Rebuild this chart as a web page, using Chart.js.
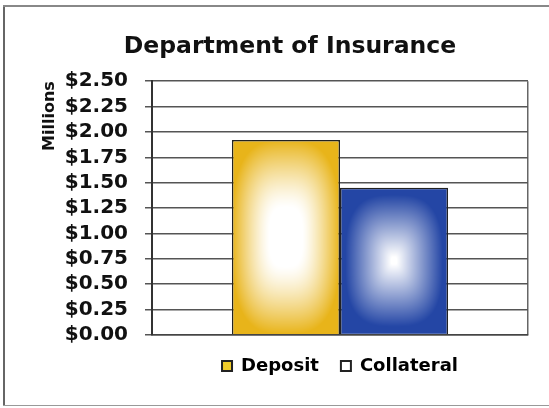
<!DOCTYPE html>
<html>
<head>
<meta charset="utf-8">
<script src="https://cdn.jsdelivr.net/npm/chart.js@4/dist/chart.umd.min.js"></script>
<style>
  html, body { margin: 0; padding: 0; background: #fff; overflow: hidden; }
  #page { position: relative; width: 549px; height: 408px; overflow: hidden; }
  .edge { position: absolute; }
  #edgeLeft { left: 3px; top: 5px; width: 2px; height: 401px; background: #666; }
  #edgeTop { left: 3px; top: 5px; width: 546px; height: 2px; background: #888; }
  #edgeBottom { left: 3px; top: 405px; width: 546px; height: 1px; background: #999; }
  #chart { position: absolute; left: 4px; top: 6px; }
</style>
</head>
<body>
<div id="page">
<div class="edge" id="edgeLeft"></div>
<div class="edge" id="edgeTop"></div>
<div class="edge" id="edgeBottom"></div>
<canvas id="chart" width="572" height="400" style="width:572px;height:400px"></canvas>
</div>
<script>
// --- Data (values in millions) ---
const categories = [''];
const seriesNames = ['Deposit', 'Collateral'];
const depositValues = [1.92];
const collateralValues = [1.45];
const yTicks = [0, 0.25, 0.5, 0.75, 1.0, 1.25, 1.5, 1.75, 2.0, 2.25, 2.5];

// edge colour, where the white core ends / full colour starts, and ramp curve
const barLooks = {
    Deposit: { rgb: [232, 180, 26], from: 0.3, to: 1.0, curve: 1.3 },
    Collateral: { rgb: [36, 70, 165], from: 0.05, to: 0.9, curve: 1 }
};

Chart.defaults.font.family = "'DejaVu Sans', sans-serif";
Chart.defaults.font.weight = 'bold';
Chart.defaults.color = '#111';

// Excel-like "from centre" fill for a bar of size w x h
function gradientCanvas(w, h, look) {
    const off = document.createElement('canvas');
    off.width = Math.max(1, Math.round(w));
    off.height = Math.max(1, Math.round(h));
    const octx = off.getContext('2d');
    const img = octx.createImageData(off.width, off.height);
    const hw = off.width / 2, hh = off.height / 2;
    for (let j = 0; j < off.height; j++) {
        for (let i = 0; i < off.width; i++) {
            const ax = Math.abs(i + 0.5 - hw) / hw;
            const ay = Math.abs(j + 0.5 - hh) / hh;
            const t = Math.pow(Math.pow(ax, 3) + Math.pow(ay, 3), 1 / 3);
            let f = Math.min(1, Math.max(0, (t - look.from) / (look.to - look.from)));
            f = Math.pow(f, look.curve);
            const k = (j * off.width + i) * 4;
            img.data[k] = 255 + (look.rgb[0] - 255) * f;
            img.data[k + 1] = 255 + (look.rgb[1] - 255) * f;
            img.data[k + 2] = 255 + (look.rgb[2] - 255) * f;
            img.data[k + 3] = 255;
        }
    }
    octx.putImageData(img, 0, 0);
    return off;
}

const barGradientPlugin = {
    id: 'barGradient',
    beforeDatasetsDraw(chart) {
        const ctx = chart.ctx;
        chart.data.datasets.forEach((ds, di) => {
            chart.getDatasetMeta(di).data.forEach(bar => {
                const left = bar.x - bar.width / 2;
                const top = Math.min(bar.y, bar.base);
                const h = Math.abs(bar.base - bar.y);
                const pattern = ctx.createPattern(gradientCanvas(bar.width, h, barLooks[ds.label]), 'no-repeat');
                pattern.setTransform(new DOMMatrix([1, 0, 0, 1, left, top]));
                bar.options.backgroundColor = pattern;
            });
        });
    }
};

const legendFill = { Deposit: '#f0cc2a', Collateral: '#ffffff' };

new Chart(document.getElementById('chart'), {
    type: 'bar',
    data: {
        labels: categories,
        datasets: [
            { label: seriesNames[0], data: depositValues, backgroundColor: '#e8b41a', borderColor: '#222', borderWidth: 1.5 },
            { label: seriesNames[1], data: collateralValues, backgroundColor: '#2446a5', borderColor: '#222', borderWidth: 1.5 }
        ]
    },
    plugins: [barGradientPlugin],
    options: {
        responsive: false,
        animation: false,
        layout: { padding: { left: 48, right: 48, top: 0, bottom: 21 } },
        datasets: { bar: { categoryPercentage: 0.575, barPercentage: 1 } },
        scales: {
            x: {
                ticks: { display: false },
                grid: { display: true, offset: true, drawTicks: false, color: '#666', lineWidth: 1.5 },
                border: { display: true, color: '#444', width: 1.5 }
            },
            y: {
                min: 0,
                max: 2.5,
                afterBuildTicks: scale => { scale.ticks = yTicks.map(v => ({ value: v })); },
                afterFit: scale => { scale.width = 100; },
                ticks: {
                    autoSkip: false,
                    padding: 17,
                    font: { size: 20, weight: 'bold', lineHeight: 1 },
                    color: '#111',
                    callback: v => '$' + Number(v).toFixed(2)
                },
                grid: { color: '#555', lineWidth: 1.5, tickLength: 7 },
                border: { display: true, color: '#333', width: 2 },
                title: {
                    display: true, text: 'Millions', align: 'end',
                    font: { size: 16, weight: 'bold' }, color: '#111',
                    padding: { top: -12, bottom: 0 }
                }
            }
        },
        plugins: {
            title: {
                display: true,
                text: 'Department of Insurance',
                font: { size: 23.5, weight: 'bold' },
                color: '#111',
                padding: { top: 27, bottom: 20 }
            },
            legend: {
                position: 'bottom',
                fullSize: false,
                labels: {
                    boxWidth: 10,
                    boxHeight: 10,
                    padding: 22,
                    font: { size: 18, weight: 'bold' },
                    color: '#111',
                    generateLabels: chart => chart.data.datasets.map((ds, i) => ({
                        text: ds.label,
                        fillStyle: legendFill[ds.label],
                        strokeStyle: '#222',
                        lineWidth: 2,
                        datasetIndex: i
                    }))
                }
            },
            tooltip: { enabled: false }
        }
    }
});
</script>
</body>
</html>
